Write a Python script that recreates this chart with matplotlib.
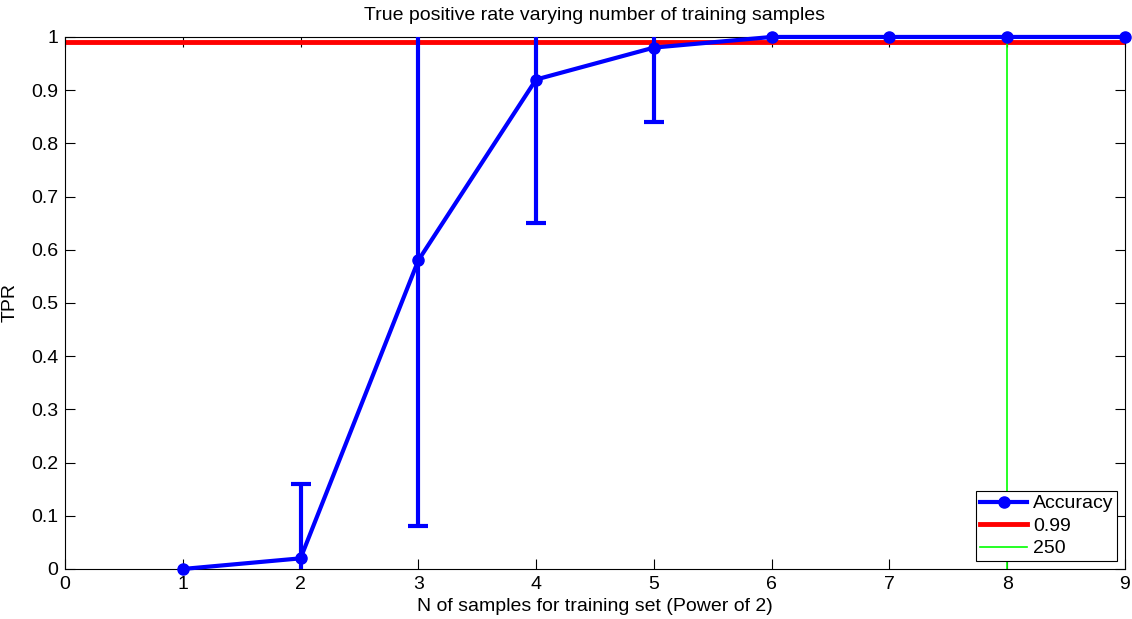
import numpy as np
import matplotlib.pyplot as plt

plt.rcParams['font.family'] = ['Liberation Sans', 'DejaVu Sans']

# data
n_pow = [1, 2, 3, 4, 5, 6, 7, 8, 9]
tpr = [0.0, 0.02, 0.58, 0.92, 0.98, 1.0, 1.0, 1.0, 1.0]
tpr_err = [0.0, 0.14, 0.50, 0.27, 0.14, 0.0, 0.0, 0.0, 0.0]
thr = 0.99
cut = 8

fig = plt.figure(figsize=(11.32, 6.19), dpi=100)
ax = fig.add_axes([0.0574, 0.0808, 0.9364, 0.8595])

# threshold + cut line
ax.axhline(thr, color='red', lw=3.5, label='0.99', zorder=2)
ax.plot([cut, cut], [0, 1], color='#00ff00', lw=1.2, label='250', zorder=2)

# error bars (only where there is spread, clipped by axes) then the main line
idx = [i for i in range(len(n_pow)) if tpr_err[i] > 0]
ax.errorbar([n_pow[i] for i in idx], [tpr[i] for i in idx],
            yerr=[tpr_err[i] for i in idx], fmt='none', ecolor='blue',
            elinewidth=3, capsize=7.5, capthick=3, zorder=3)
ax.plot(n_pow, tpr, '-o', color='blue', lw=3, ms=8, label='Accuracy',
        clip_on=False, zorder=4)

ax.set_xlim(0, 9)
ax.set_ylim(0, 1)
ax.set_xticks(range(0, 10))
ax.set_yticks(np.arange(0, 1.01, 0.1))
ax.set_yticklabels(['0', '0.1', '0.2', '0.3', '0.4', '0.5', '0.6', '0.7', '0.8', '0.9', '1'])
ax.tick_params(direction='in', top=True, right=True, labelsize=14, length=7,
               width=0.8, pad=5)

ax.set_title('True positive rate varying number of training samples', fontsize=14, pad=12)
ax.set_xlabel('N of samples for training set (Power of 2)', fontsize=14, labelpad=4)
ax.set_ylabel('TPR', fontsize=14)
ax.yaxis.set_label_coords(-0.044, 0.5)

handles, labels = ax.get_legend_handles_labels()
order = [labels.index('Accuracy'), labels.index('0.99'), labels.index('250')]
leg = ax.legend([handles[i] for i in order], [labels[i] for i in order],
                loc='lower right', fontsize=14, fancybox=False, framealpha=1,
                edgecolor='black', borderaxespad=0.4, handlelength=2.4,
                borderpad=0.2, labelspacing=0.25, handletextpad=0.3)
leg.get_frame().set_linewidth(0.8)

fig.savefig('out.png', dpi=100)
